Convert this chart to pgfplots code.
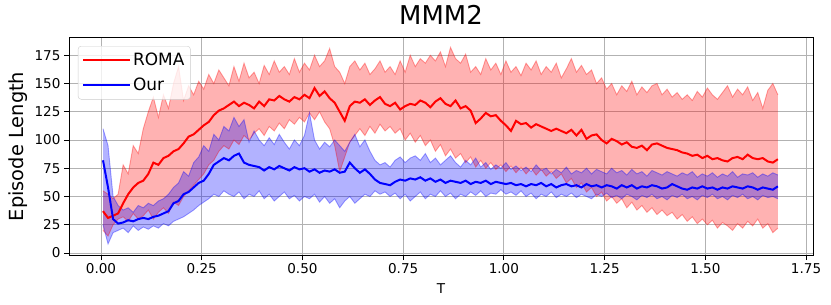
\documentclass[border=0pt]{standalone}
\usepackage{fontspec}
\setmainfont{DejaVu Sans}
\usepackage{pgfplots}
\usepackage{pgfplotstable}
\pgfplotsset{compat=1.18}
\usepgfplotslibrary{fillbetween}

\pgfplotstableread{
x rm rl rh bm bl bh
0.005 37 20 55 82 25 110
0.0175 31 15 52 58 8 95
0.03 33 25 48 30 18 50
0.0425 35 30 52 26 20 42
0.055 44 32 78 27 22 38
0.0675 52 28 70 29 18 40
0.08 58 35 95 28 24 36
0.0925 62 30 88 30 20 42
0.105 64 33 110 31 23 40
0.1175 70 38 125 30 21 44
0.13 80 30 138 32 24 42
0.1425 78 36 120 33 22 46
0.155 84 40 140 35 26 48
0.1675 86 35 128 37 24 52
0.18 90 45 150 44 28 58
0.1925 92 42 165 46 30 62
0.205 97 50 135 52 32 72
0.2175 103 55 148 54 35 68
0.23 105 60 140 58 38 80
0.2425 109 65 152 62 42 85
0.255 113 70 145 64 45 95
0.2675 116 78 158 70 48 90
0.28 122 82 150 78 52 105
0.2925 126 90 162 81 50 100
0.305 128 95 155 84 55 112
0.3175 131 92 148 82 52 108
0.33 134 100 165 86 50 120
0.3425 130 96 152 88 54 112
0.355 133 104 168 80 48 118
0.3675 131 100 155 78 52 98
0.38 128 106 160 77 50 108
0.3925 134 110 150 76 55 100
0.405 130 104 166 73 48 95
0.4175 136 112 158 76 52 102
0.43 135 108 170 74 46 96
0.4425 139 115 160 77 50 105
0.455 136 110 165 75 54 98
0.4675 134 118 158 73 48 92
0.48 138 114 172 76 51 100
0.4925 136 120 160 74 46 95
0.505 140 116 168 75 50 104
0.5175 137 124 162 72 48 124
0.53 146 118 175 74 52 100
0.5425 139 125 165 71 45 92
0.555 143 116 170 73 50 98
0.5675 137 110 181 72 44 94
0.58 133 95 165 74 48 100
0.5925 125 72 160 71 40 95
0.605 117 85 150 72 46 90
0.6175 130 98 165 80 50 98
0.63 134 104 170 75 44 105
0.6425 133 110 162 71 48 94
0.655 136 104 168 74 52 100
0.6675 131 112 158 70 50 90
0.68 135 106 163 65 55 82
0.6925 138 114 170 62 52 78
0.705 132 108 160 61 54 80
0.7175 130 112 165 60 50 76
0.73 133 106 158 63 53 82
0.7425 127 110 170 65 48 85
0.755 130 100 160 64 52 80
0.7675 132 106 175 66 46 84
0.78 131 98 165 65 50 86
0.7925 135 104 172 67 54 82
0.805 133 95 168 64 48 88
0.8175 129 100 175 66 52 80
0.83 134 90 170 63 50 84
0.8425 137 96 178 65 55 78
0.855 132 86 165 62 50 82
0.8675 130 92 182 64 53 86
0.88 135 84 172 63 48 80
0.8925 128 88 168 62 52 76
0.905 130 80 176 64 50 82
0.9175 126 85 160 61 54 78
0.93 115 76 165 63 51 84
0.9425 119 82 158 62 55 76
0.955 124 75 172 64 50 80
0.9675 121 80 162 61 53 74
0.98 122 74 168 63 52 78
0.9925 117 78 158 62 56 75
1.005 113 72 170 61 52 80
1.0175 108 77 160 62 54 74
1.03 117 71 165 60 51 77
1.0425 114 76 157 61 55 73
1.055 115 70 168 59 50 76
1.0675 111 75 162 61 53 72
1.08 114 69 170 60 48 78
1.0925 112 74 158 62 52 73
1.105 110 68 165 59 50 75
1.1175 108 72 160 61 54 70
1.13 110 66 168 58 49 74
1.1425 108 70 155 60 52 71
1.155 106 62 163 61 50 76
1.1675 109 66 172 59 53 70
1.18 104 58 160 60 49 73
1.1925 109 62 166 58 52 71
1.205 101 54 158 61 50 75
1.2175 104 58 162 59 48 70
1.23 105 50 150 60 52 74
1.2425 100 54 155 58 50 72
1.255 97 46 145 60 53 70
1.2675 101 50 150 59 49 75
1.28 99 44 140 57 51 71
1.2925 96 48 148 60 48 73
1.305 98 40 143 58 52 69
1.3175 94 45 152 60 50 74
1.33 93 38 140 57 47 70
1.3425 95 42 147 59 51 72
1.355 91 36 142 58 49 68
1.3675 96 40 148 60 52 73
1.38 97 34 150 59 48 71
1.3925 95 38 140 57 50 69
1.405 93 33 145 58 47 72
1.4175 92 36 138 61 51 70
1.43 91 30 142 59 49 68
1.4425 89 34 136 57 52 71
1.455 88 28 140 56 48 69
1.4675 86 32 135 58 50 72
1.48 87 26 143 57 47 67
1.4925 84 30 138 59 51 70
1.505 86 25 146 57 49 68
1.5175 83 29 140 58 52 71
1.53 84 22 136 56 48 67
1.5425 82 27 142 58 50 70
1.555 81 24 148 57 47 68
1.5675 84 20 138 59 51 72
1.58 85 26 145 58 49 67
1.5925 83 22 140 57 52 70
1.605 87 28 147 59 48 69
1.6175 84 24 135 58 50 71
1.63 83 30 142 56 47 67
1.6425 84 22 128 58 51 70
1.655 81 26 144 57 49 68
1.6675 80 18 150 56 50 71
1.68 83 22 140 59 48 69
}\data

\begin{document}
\begin{tikzpicture}
\begin{axis}[
  scale only axis, width=744bp, height=217bp,
  xmin=-0.0794, xmax=1.7672, ymin=-1.8, ymax=190.3,
  xtick={0,0.25,0.5,0.75,1,1.25,1.5,1.75},
  ytick={0,25,50,75,100,125,150,175},
  /pgf/number format/assume math mode=true,
  xticklabel={\pgfmathprintnumber[fixed,fixed zerofill,precision=2]{\tick}},
  yticklabel={\pgfmathprintnumber[fixed,precision=0]{\tick}},
  scaled x ticks=false, scaled y ticks=false,
  tick align=outside, tick pos=left,
  major tick length=5bp,
  every tick/.style={black, line width=0.8bp},
  ticklabel style={font=\fontsize{13.6}{16}\selectfont},
  axis line style={black, line width=1bp},
  grid=major,
  major grid style={draw=black!30, line width=0.8bp},
  title={MMM2},
  title style={font=\fontsize{26}{30}\selectfont, at={(axis description cs:0.5,1)}, anchor=base, yshift=8bp},
  xlabel={T},
  xlabel style={font=\fontsize{13.6}{16}\selectfont, at={(axis description cs:0.5,0)}, anchor=base, yshift=-38bp},
  ylabel={Episode Length},
  ylabel style={font=\fontsize{19.5}{22}\selectfont, at={(axis description cs:-0.0685,0.5)}, anchor=center, rotate=0},
  legend style={at={(axis description cs:0.012,0.963)}, anchor=north west, draw=black!20, rounded corners=3bp, fill=white, fill opacity=0.8, text opacity=1, font=\fontsize{17}{20}\selectfont, inner xsep=4bp, inner ysep=5bp, row sep=7bp},
  legend cell align=left,
  legend image code/.code={\draw[#1, line width=1.5bp] (0bp,0bp) -- (38bp,0bp); \path (0bp,0bp) -- (47bp,0bp);},
]
\addplot[name path=rh, draw=red, draw opacity=0.35, line width=0.9bp, forget plot] table[x=x,y=rh]{\data};
\addplot[name path=rl, draw=red, draw opacity=0.35, line width=0.9bp, forget plot] table[x=x,y=rl]{\data};
\addplot[fill=red, fill opacity=0.3, draw=none, forget plot] fill between[of=rh and rl];
\addplot[name path=bh, draw=blue, draw opacity=0.35, line width=0.9bp, forget plot] table[x=x,y=bh]{\data};
\addplot[name path=bl, draw=blue, draw opacity=0.35, line width=0.9bp, forget plot] table[x=x,y=bl]{\data};
\addplot[fill=blue, fill opacity=0.3, draw=none, forget plot] fill between[of=bh and bl];
\addplot[red, line width=2bp] table[x=x,y=rm]{\data};
\addlegendentry{ROMA}
\addplot[blue, line width=2bp] table[x=x,y=bm]{\data};
\addlegendentry{Our}
\node[anchor=base east, font=\fontsize{13.6}{16}\selectfont] at (axis description cs:0.996,0) [yshift=-38bp] {1e7};
\end{axis}
\pgfresetboundingbox
\path[use as bounding box] ([shift={(-69bp,-50bp)}]current axis.south west) rectangle ([shift={(18bp,38bp)}]current axis.north east);
\end{tikzpicture}
\end{document}
